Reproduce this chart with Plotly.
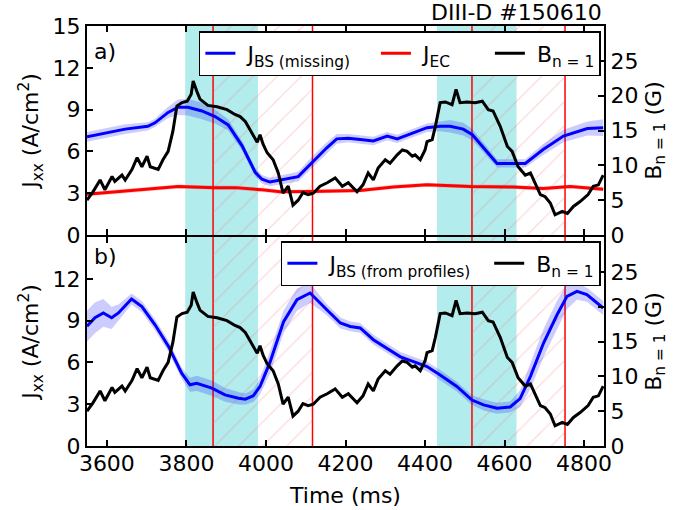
import plotly.graph_objects as go

# ---------------- data ----------------
# Panel a: J_BS (missing) [A/cm^2]
t_bs_missing = [3550, 3595, 3646, 3703, 3721, 3754, 3779, 3804, 3839, 3872, 3905, 3940,
                3973, 3990, 4010, 4081, 4115, 4153, 4178, 4207, 4237, 4270, 4305, 4330,
                4405, 4438, 4463, 4496, 4519, 4581, 4652, 4697, 4748, 4808, 4848]
jbs_missing = [7.05, 7.3, 7.6, 7.8, 8.05, 8.8, 9.17, 9.17, 8.9, 8.5, 7.9, 6.4,
               4.5, 4.0, 3.8, 4.19, 5.2, 6.26, 6.9, 6.95, 6.85, 6.75, 7.1, 6.9,
               7.7, 7.8, 7.8, 7.6, 7.2, 5.14, 5.14, 6.14, 7.1, 7.64, 7.7]
jbs_missing_err = [0.35, 0.35, 0.35, 0.3, 0.3, 0.4, 0.55, 0.6, 0.6, 0.5, 0.4, 0.35,
                   0.3, 0.3, 0.3, 0.35, 0.4, 0.4, 0.35, 0.3, 0.3, 0.3, 0.3, 0.3,
                   0.3, 0.35, 0.45, 0.45, 0.4, 0.3, 0.3, 0.4, 0.45, 0.5, 0.6]

# Panel a: J_EC [A/cm^2]
t_ec = [3550, 3671, 3779, 3872, 3922, 3990, 4036, 4111, 4237, 4320, 4405, 4514,
        4622, 4697, 4765, 4848]
jec = [2.93, 3.2, 3.48, 3.4, 3.4, 3.24, 3.1, 3.12, 3.2, 3.45, 3.6, 3.48,
       3.45, 3.33, 3.48, 3.29]
jec_err = [0.15] * len(jec)

# B_{n=1} [G] (same signal in both panels)
t_b = [3550, 3565, 3583, 3595, 3613, 3620, 3638, 3646, 3663, 3676, 3688, 3701,
       3709, 3721, 3729, 3741, 3754, 3766, 3776, 3789, 3802, 3812, 3817, 3827,
       3834, 3854, 3877, 3902, 3922, 3935, 3948, 3960, 3968, 3978, 3985, 3993,
       4003, 4018, 4031, 4043, 4056, 4068, 4081, 4093, 4106, 4119, 4136, 4154,
       4174, 4192, 4207, 4229, 4244, 4257, 4270, 4282, 4300, 4312, 4330, 4343,
       4355, 4368, 4375, 4388, 4400, 4405, 4418, 4426, 4438, 4451, 4468, 4478,
       4488, 4506, 4526, 4544, 4559, 4571, 4589, 4607, 4619, 4634, 4652, 4665,
       4677, 4690, 4702, 4715, 4727, 4745, 4758, 4773, 4790, 4810, 4823, 4836,
       4848]
b_n1 = [5.0, 6.2, 7.9, 6.5, 8.4, 7.7, 8.6, 7.9, 9.4, 11.1, 9.8, 11.3,
        9.8, 9.6, 9.4, 10.8, 12.0, 14.9, 18.5, 19.0, 19.2, 20.2, 22.1, 20.5,
        19.5, 18.6, 18.4, 18.0, 17.3, 17.0, 16.3, 15.1, 14.2, 13.3, 14.4, 13.0,
        11.8, 10.8, 8.9, 6.0, 7.0, 4.3, 5.0, 6.1, 5.8, 6.0, 7.0, 7.5,
        8.2, 7.0, 7.5, 6.2, 7.2, 8.9, 7.9, 9.6, 10.8, 10.3, 11.5, 12.2,
        12.0, 11.3, 11.5, 10.8, 12.2, 13.4, 13.7, 15.6, 19.0, 19.1, 18.7, 20.9,
        19.0, 19.1, 19.0, 19.2, 18.0, 17.8, 15.6, 12.7, 12.0, 9.8, 8.6, 8.9,
        7.4, 5.8, 5.5, 4.6, 2.9, 3.4, 3.1, 4.1, 4.8, 5.8, 7.0, 7.2,
        8.6]

# Panel b: J_BS (from profiles) [A/cm^2]
t_bs_prof = [3550, 3570, 3591, 3612, 3629, 3662, 3688, 3721, 3755, 3788, 3809, 3826,
             3864, 3897, 3931, 3948, 3968, 3985, 4010, 4044, 4078, 4111, 4153, 4187,
             4212, 4237, 4270, 4304, 4338, 4371, 4405, 4438, 4480, 4518, 4547, 4581,
             4614, 4639, 4665, 4698, 4732, 4757, 4782, 4807, 4848]
jbs_prof = [8.6, 9.2, 9.55, 9.2, 9.55, 10.55, 10.0, 8.7, 7.15, 5.23, 4.39, 4.5,
            4.15, 3.67, 3.43, 3.36, 3.6, 4.27, 6.0, 8.9, 10.5, 10.98, 9.78, 8.83,
            8.58, 8.47, 7.63, 7.03, 6.4, 6.06, 5.7, 5.1, 4.27, 3.3, 2.95, 2.71,
            2.8, 3.4, 5.0, 7.39, 9.42, 10.74, 11.1, 10.86, 9.9]
jbs_prof_err = [1.1, 1.1, 1.0, 0.8, 0.6, 0.4, 0.4, 0.4, 0.4, 0.4, 0.5, 0.55,
                0.55, 0.5, 0.45, 0.4, 0.45, 0.6, 0.8, 0.8, 0.8, 0.7, 0.4, 0.4,
                0.35, 0.35, 0.35, 0.35, 0.35, 0.35, 0.35, 0.35, 0.35, 0.35, 0.4, 0.4,
                0.4, 0.6, 0.9, 1.0, 1.0, 0.9, 0.6, 0.5, 0.5]

# Time windows
cyan_spans = [(3797, 3980), (4430, 4630)]
hatch_spans = [(3867, 4117), (4518, 4752)]
red_lines = [3867, 4117, 4518, 4752]

x_ticks = [3600, 3800, 4000, 4200, 4400, 4600, 4800]
j_ticks_a = [0, 3, 6, 9, 12, 15]
j_ticks_b = [0, 3, 6, 9, 12]
b_ticks = [0, 5, 10, 15, 20, 25]
x_range = [3550, 4850]
j_range = [0, 15]
b_range = [0, 30]

# ---------------- styles ----------------
FONT = "DejaVu Sans"
BLUE = "#0000ff"
RED = "#ff0000"
BLACK = "#000000"
SP = "\u00a0"
GAP = 1 / 420  # half of the axis line width, so the two panel borders coincide


def band(t, y, e, xa, ya, color):
    upper = [v + d for v, d in zip(y, e)]
    lower = [v - d for v, d in zip(y, e)]
    return go.Scatter(x=list(t) + list(t)[::-1], y=upper + lower[::-1], xaxis=xa, yaxis=ya,
                      fill="toself", fillcolor=color, line=dict(width=0),
                      mode="lines", showlegend=False, hoverinfo="skip")


fig = go.Figure()

# hatched windows (both panels)
for xa, ya in (("x", "y"), ("x2", "y3")):
    for x0, x1 in hatch_spans:
        fig.add_trace(go.Scatter(
            x=[x0, x0, x1, x1, x0], y=[j_range[0], j_range[1], j_range[1], j_range[0], j_range[0]],
            xaxis=xa, yaxis=ya, mode="lines", line=dict(width=0),
            fill="toself", fillcolor="rgba(0,0,0,0)",
            fillpattern=dict(shape="/", fgcolor="rgba(240,110,110,0.55)", bgcolor="rgba(0,0,0,0)",
                             size=17, solidity=0.07),
            showlegend=False, hoverinfo="skip"))

# panel a
fig.add_trace(band(t_bs_missing, jbs_missing, jbs_missing_err, "x", "y", "rgba(0,0,255,0.2)"))
fig.add_trace(band(t_ec, jec, jec_err, "x", "y", "rgba(255,0,0,0.2)"))
fig.add_trace(go.Scatter(x=t_bs_missing, y=jbs_missing, xaxis="x", yaxis="y", mode="lines",
                         line=dict(color=BLUE, width=3),
                         name=SP + "J<sub>BS (missing)</sub>" + SP * 3, legend="legend"))
fig.add_trace(go.Scatter(x=t_ec, y=jec, xaxis="x", yaxis="y", mode="lines",
                         line=dict(color=RED, width=3),
                         name=SP + "J<sub>EC</sub>" + SP * 5, legend="legend"))
fig.add_trace(go.Scatter(x=t_b, y=b_n1, xaxis="x", yaxis="y2", mode="lines",
                         line=dict(color=BLACK, width=3),
                         name=SP + "B<sub>n = 1</sub>", legend="legend"))

# panel b
fig.add_trace(band(t_bs_prof, jbs_prof, jbs_prof_err, "x2", "y3", "rgba(0,0,255,0.2)"))
fig.add_trace(go.Scatter(x=t_bs_prof, y=jbs_prof, xaxis="x2", yaxis="y3", mode="lines",
                         line=dict(color=BLUE, width=3),
                         name=SP + "J<sub>BS (from profiles)</sub>" + SP * 2, legend="legend2"))
fig.add_trace(go.Scatter(x=t_b, y=b_n1, xaxis="x2", yaxis="y4", mode="lines",
                         line=dict(color=BLACK, width=3),
                         name=SP + "B<sub>n = 1</sub>", legend="legend2"))

shapes = []
for xr, yr in (("x", "y domain"), ("x2", "y3 domain")):
    for x0, x1 in cyan_spans:
        shapes.append(dict(type="rect", xref=xr, yref=yr, x0=x0, x1=x1, y0=0, y1=1,
                           fillcolor="rgba(0,191,191,0.3)", line=dict(width=0), layer="below"))
    for xv in red_lines:
        shapes.append(dict(type="line", xref=xr, yref=yr, x0=xv, x1=xv, y0=0, y1=1,
                           line=dict(color=RED, width=1.5), layer="below"))

axis_common = dict(showline=True, linecolor=BLACK, linewidth=2, ticks="inside", ticklen=6,
                   tickwidth=1.5, tickcolor=BLACK, showgrid=False, zeroline=False,
                   automargin=False, tickfont=dict(family=FONT, size=22, color=BLACK))

xtitle = dict(text="Time (ms)", font=dict(family=FONT, size=22, color=BLACK), standoff=12)
jtitle = dict(text="J<sub>xx</sub> (A/cm<sup>2</sup>)", font=dict(family=FONT, size=22, color=BLACK),
              standoff=8)
btitle = dict(text="B<sub>n = 1</sub> (G)", font=dict(family=FONT, size=22, color=BLACK), standoff=8)

legend_common = dict(orientation="h", xanchor="right", yanchor="top", bgcolor="white",
                     bordercolor=BLACK, borderwidth=1.5,
                     font=dict(family=FONT, size=22, color=BLACK))

fig.update_layout(
    width=688, height=510,
    margin=dict(l=87, r=84, t=26, b=64),
    paper_bgcolor="white", plot_bgcolor="white",
    font=dict(family=FONT, color=BLACK),
    shapes=shapes,
    xaxis=dict(axis_common, domain=[0, 1], range=x_range, tickvals=x_ticks, anchor="y",
               showticklabels=False, mirror="ticks", matches="x2"),
    xaxis2=dict(axis_common, domain=[0, 1], range=x_range, tickvals=x_ticks, anchor="y3",
                mirror="ticks", title=xtitle, ticklabelstandoff=-3),
    yaxis=dict(axis_common, domain=[0.5 + GAP, 1], range=j_range, tickvals=j_ticks_a, anchor="x",
               title=jtitle),
    yaxis2=dict(axis_common, range=b_range, tickvals=b_ticks, overlaying="y", side="right",
                anchor="x", title=btitle),
    yaxis3=dict(axis_common, domain=[0, 0.5 - GAP], range=j_range, tickvals=j_ticks_b, anchor="x2",
                title=jtitle),
    yaxis4=dict(axis_common, range=b_range, tickvals=b_ticks, overlaying="y3", side="right",
                anchor="x2", title=btitle),
    legend=dict(legend_common, x=0.994, y=0.988),
    legend2=dict(legend_common, x=0.994, y=0.488),
    annotations=[
        dict(text="DIII-D #150610", xref="paper", yref="paper", x=1, y=1, xanchor="right",
             yanchor="bottom", yshift=-1, showarrow=False,
             font=dict(family=FONT, size=22, color=BLACK)),
        dict(text="a)", xref="paper", yref="paper", x=0.01, y=0.975, xanchor="left",
             yanchor="top", showarrow=False, font=dict(family=FONT, size=22, color=BLACK)),
        dict(text="b)", xref="paper", yref="paper", x=0.01, y=0.485, xanchor="left",
             yanchor="top", showarrow=False, font=dict(family=FONT, size=22, color=BLACK)),
    ],
)

# the page's default body margin would offset the figure; remove it so the chart fills the window
fig.write_html("out.html", config={"displayModeBar": False},
               post_script="document.body.style.margin='0px';")
